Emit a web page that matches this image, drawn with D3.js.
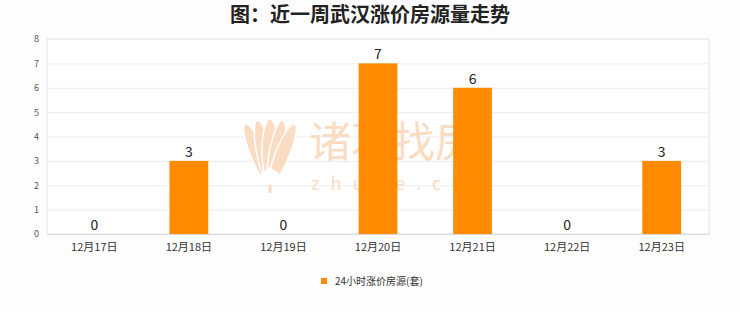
<!DOCTYPE html>
<html>
<head>
<meta charset="utf-8">
<script src="https://cdn.jsdelivr.net/npm/d3@7"></script>
<style>
  body { margin: 0; background: #fdfdfd; }
  svg { display: block; }
</style>
</head>
<body>
<script>
// chart data
const categories = ['12月17日', '12月18日', '12月19日', '12月20日', '12月21日', '12月22日', '12月23日'];
const values = [0, 3, 0, 7, 6, 0, 3];
const yTicks = [0, 1, 2, 3, 4, 5, 6, 7, 8];
const seriesName = '24小时涨价房源(套)';
const titleText = '图：近一周武汉涨价房源量走势';

const W = 740, H = 312;
const margin = { top: 39, right: 31, bottom: 78, left: 47 };
const width = W - margin.left - margin.right;
const height = H - margin.top - margin.bottom;
const orange = '#ff8a00';
const font = '"Noto Sans CJK SC", "Noto Sans", sans-serif';

const root = d3.select('body')
  .append('svg')
  .attr('width', W)
  .attr('height', H);

root.append('rect').attr('width', W).attr('height', H).attr('fill', '#fdfdfd');

// Title
root.append('text')
  .attr('x', W / 2)
  .attr('y', 22)
  .attr('text-anchor', 'middle')
  .attr('font-family', font)
  .attr('font-size', 20)
  .attr('font-weight', 'bold')
  .attr('fill', '#222')
  .text(titleText);

const svg = root.append('g')
  .attr('transform', `translate(${margin.left}, ${margin.top})`);

const xScale = d3.scaleBand()
  .domain(categories)
  .range([0, width])
  .paddingInner(0.59)
  .paddingOuter(0.295);

const yScale = d3.scaleLinear()
  .domain([0, 8])
  .range([height, 0]);

// plot background + gridlines
svg.append('rect')
  .attr('width', width)
  .attr('height', height)
  .attr('fill', '#fff')
  .attr('stroke', '#e2e2e2');

svg.append('g')
  .attr('class', 'grid')
  .call(d3.axisLeft(yScale).tickValues(yTicks).tickSize(-width).tickFormat(''))
  .call(g => g.select('.domain').remove())
  .call(g => g.selectAll('line').attr('stroke', '#ececec'));

// Watermark (faint logo behind the bars)
const wmColor = '#f9dcc2';
const wm = svg.append('g');
const lotus = wm.append('g').attr('transform', 'translate(223, 146)');
[-22, -11, 0, 11, 22].forEach(a => {
  lotus.append('ellipse')
    .attr('transform', `rotate(${a})`)
    .attr('cx', 0).attr('cy', -34)
    .attr('rx', a === 0 ? 8 : 7).attr('ry', 32)
    .attr('fill', wmColor)
    .attr('stroke', '#fff')
    .attr('stroke-width', 1.5);
});
lotus.append('path')
  .attr('d', 'M-11,-10 L0,-18 L11,-10 L11,0 L-11,0 Z')
  .attr('fill', '#fff');
lotus.append('rect').attr('x', -1.5).attr('y', 0).attr('width', 3).attr('height', 8).attr('fill', wmColor);
wm.append('text')
  .attr('x', 262).attr('y', 118)
  .attr('font-family', font)
  .attr('font-size', 42)
  .attr('fill', wmColor)
  .text('诸葛找房');
wm.append('text')
  .attr('x', 264).attr('y', 151)
  .attr('font-family', font)
  .attr('font-size', 18)
  .attr('letter-spacing', 11)
  .attr('fill', wmColor)
  .text('zhuge.com');

// Bars
svg.selectAll('rect.bar')
  .data(values)
  .enter()
  .append('rect')
  .attr('class', 'bar')
  .attr('x', (d, i) => xScale(categories[i]))
  .attr('y', d => yScale(d))
  .attr('width', xScale.bandwidth())
  .attr('height', d => height - yScale(d))
  .attr('fill', orange);

// Value labels
svg.selectAll('text.val')
  .data(values)
  .enter()
  .append('text')
  .attr('class', 'val')
  .attr('x', (d, i) => xScale(categories[i]) + xScale.bandwidth() / 2)
  .attr('y', d => yScale(d) - 4)
  .attr('text-anchor', 'middle')
  .attr('font-family', font)
  .attr('font-size', 14)
  .attr('fill', '#222')
  .text(d => d);

// Axes
svg.append('g')
  .attr('class', 'y-axis')
  .call(d3.axisLeft(yScale).tickValues(yTicks).tickSize(0).tickPadding(8))
  .call(g => g.select('.domain').remove())
  .call(g => g.selectAll('text').attr('font-family', font).attr('font-size', 9).attr('fill', '#555'));

svg.append('g')
  .attr('class', 'x-axis')
  .attr('transform', `translate(0, ${height})`)
  .call(d3.axisBottom(xScale).tickSize(0).tickPadding(9))
  .call(g => g.select('.domain').attr('stroke', '#d8d8d8'))
  .call(g => g.selectAll('text').attr('font-family', font).attr('font-size', 11).attr('fill', '#333'));

// Legend
const legend = root.append('g').attr('transform', 'translate(318, 275)');
legend.append('rect').attr('width', 16).attr('height', 12).attr('x', 0).attr('y', -2).attr('fill', '#fff');
legend.append('rect')
  .attr('x', 3).attr('y', 3)
  .attr('width', 6).attr('height', 6)
  .attr('fill', orange);
legend.append('text')
  .attr('x', 17).attr('y', 10)
  .attr('font-family', font)
  .attr('font-size', 10)
  .attr('fill', '#333')
  .text(seriesName);
</script>
</body>
</html>
